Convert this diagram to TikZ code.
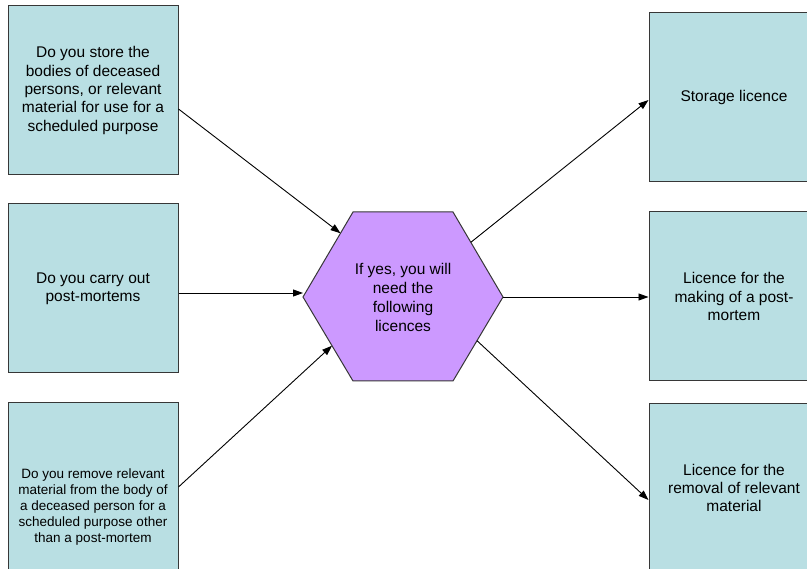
\documentclass[tikz,border=0pt]{standalone}
\usepackage{fontspec}
\setmainfont{Liberation Sans}
\usetikzlibrary{arrows.meta,calc}
\definecolor{boxfill}{RGB}{185,223,227}
\definecolor{hexfill}{RGB}{204,153,255}
\definecolor{edgegray}{RGB}{55,55,55}
\begin{document}
\begin{tikzpicture}[x=1pt,y=-1pt,
  qbox/.style={draw=edgegray, fill=boxfill, line width=1pt, minimum width=170pt,
    minimum height=169pt, align=center, inner sep=0pt,
    font=\fontsize{15.5}{18.3}\selectfont},
  smalltext/.style={font=\fontsize{13.5}{16.1}\selectfont},
  hexshape/.style={draw=edgegray, fill=hexfill, line width=1pt},
  hextext/.style={align=center, inner sep=0pt, font=\fontsize{15.5}{18.8}\selectfont},
  conn/.style={-{Triangle[length=10pt,width=7pt]}, line width=0.9pt, black}]
\useasboundingbox (0,0) rectangle (807,569);
\clip (0,0) rectangle (807,569);

% left question boxes
\node[qbox] (q1) at (93,90.5) {Do you store the\\bodies of deceased\\persons, or relevant\\material for use for a\\scheduled purpose};
\node[qbox] (q2) at (93,288.5) {Do you carry out\\post-mortems};
\node[qbox, smalltext, minimum height=208pt] (q3) at (93,507) {Do you remove relevant\\material from the body of\\a deceased person for a\\scheduled purpose other\\than a post-mortem};

% right licence boxes
\node[qbox] (r1) at (734,97.5) {Storage licence};
\node[qbox] (r2) at (734,296.5) {Licence for the\\making of a post-\\mortem};
\node[qbox] (r3) at (734,488) {Licence for the\\removal of relevant\\material};

% hexagon
\coordinate (hL) at (303,297);
\coordinate (hTL) at (353,212);
\coordinate (hTR) at (453,212);
\coordinate (hR) at (503,297);
\coordinate (hBR) at (453,381);
\coordinate (hBL) at (353,381);
\draw[hexshape] (hL) -- (hTL) -- (hTR) -- (hR) -- (hBR) -- (hBL) -- cycle;
\node[hextext] (hex) at (403,297.5) {If yes, you will\\need the\\following\\licences};

% edge points on hexagon
\coordinate (in1) at ($(hL)!0.75!(hTL)$);
\coordinate (in3) at ($(hL)!0.58!(hBL)$);
\coordinate (out1) at ($(hTR)!0.357!(hR)$);
\coordinate (out3) at ($(hR)!0.52!(hBR)$);

% connectors
\draw[conn] ($(q1.east)+(0,18.5)$) -- (in1);
\draw[conn] ($(q2.east)+(0,4.5)$) -- (hL |- {$(q2.east)+(0,4.5)$});
\draw[conn] ($(q3.east)+(0,-20)$) -- (in3);
\draw[conn] (out1) -- ($(r1.west)+(0,2.5)$);
\draw[conn] (hR) -- (r2.west |- hR);
\draw[conn] (out3) -- ($(r3.west)+(0,12)$);
\end{tikzpicture}
\end{document}
